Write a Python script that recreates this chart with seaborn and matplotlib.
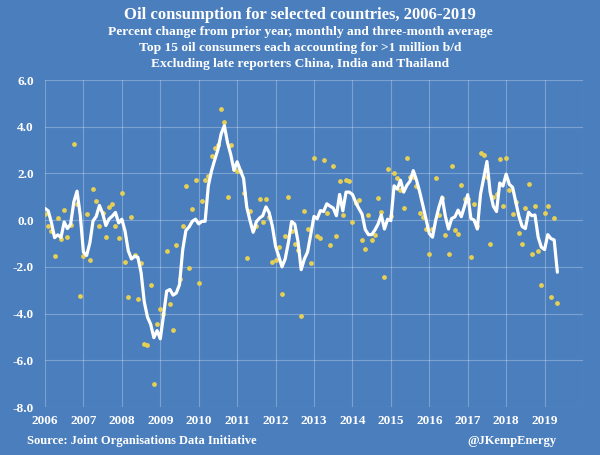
import numpy as np
import pandas as pd
import matplotlib
matplotlib.use("Agg")
import matplotlib.pyplot as plt
import seaborn as sns

# Monthly % change y/y, Jan 2006 - May 2019
monthly = [
    0.26, -0.26, -0.46, -1.53, 0.11, -0.79, 0.43, -0.73, -0.21, 3.27, 0.67, -3.26,   # 2006
    -1.53, 0.27, -1.69, 1.34, 0.83, -0.27, 0.31, -0.74, 0.57, 0.69, -0.27, -0.77,    # 2007
    1.17, -1.81, -3.29, 0.13, -1.50, -3.39, -1.83, -5.29, -5.33, -2.76, -7.00, -4.43, # 2008
    -3.81, -4.01, -1.31, -3.60, -4.71, -1.06, -2.50, -0.26, 1.45, -2.07, 0.47, 1.71,  # 2009
    -2.67, 0.81, 1.71, 1.89, 2.73, 3.11, 3.21, 4.74, 4.21, 1.00, 3.21, 2.20,          # 2010
    2.10, 2.10, 1.17, -1.60, 0.40, -0.36, -0.26, 0.89, -0.07, 0.89, 0.13, -1.81,      # 2011
    -1.69, -1.14, -3.17, -0.67, 0.97, -0.47, -1.00, -1.26, -4.11, 0.40, -0.36, -1.83, # 2012
    2.67, -0.67, -0.77, 2.56, 0.31, -1.06, 2.30, -0.67, 1.67, 0.21, 1.73, 1.67,       # 2013
    -0.09, 0.74, 0.86, -0.83, -1.23, 0.20, -0.84, -0.64, 0.96, 0.34, -2.43, 2.21,     # 2014
    0.17, 2.03, 1.79, 1.31, 0.50, 2.67, 1.84, 1.86, 1.47, 0.29, 0.13, -0.37,          # 2015
    -1.46, -0.36, 1.79, 0.22, 0.96, -0.64, -1.46, 2.32, -0.44, -0.60, 1.49, 0.89,     # 2016
    0.89, -1.57, 0.69, -0.26, 2.89, 2.80, 1.83, -1.03, 1.00, 1.14, 2.63, 0.60,        # 2017
    2.67, 1.31, 0.26, 0.77, -0.56, -1.01, 0.50, 1.54, -1.46, 0.59, -1.31, -2.76,      # 2018
    0.29, 0.60, -3.27, 0.11, -3.53,                                                   # 2019
]

# Three-month average, Jan 2006 - May 2019
three_month = [
    0.50, 0.40, -0.10, -0.75, -0.63, -0.74, -0.08, -0.36, -0.17, 0.78, 1.24, 0.23,
    -1.37, -1.51, -0.98, -0.03, 0.16, 0.63, 0.29, -0.23, 0.05, 0.17, 0.33, -0.12,
    0.04, -0.47, -1.31, -1.66, -1.55, -1.59, -2.24, -3.50, -4.15, -4.46, -5.03, -4.73,
    -5.08, -4.08, -3.04, -2.97, -3.21, -3.12, -2.76, -1.27, -0.44, -0.29, -0.05, 0.04,
    -0.16, -0.05, -0.05, 1.47, 2.11, 2.58, 3.02, 3.69, 4.05, 3.32, 2.81, 2.14,
    2.50, 2.13, 1.79, 0.56, -0.01, -0.52, -0.07, 0.09, 0.19, 0.57, 0.32, -0.26,
    -1.12, -1.55, -2.00, -1.66, -0.96, -0.06, -0.17, -0.91, -2.12, -1.66, -1.36, -0.60,
    0.16, 0.06, 0.41, 0.37, 0.70, 0.60, 0.52, 0.19, 1.10, 0.40, 1.20, 1.20,
    1.10, 0.77, 0.50, 0.26, -0.40, -0.62, -0.62, -0.43, -0.17, 0.22, -0.38, 0.04,
    -0.02, 1.47, 1.33, 1.71, 1.20, 1.49, 1.67, 2.12, 1.72, 1.21, 0.63, 0.02,
    -0.57, -0.73, -0.01, 0.55, 0.99, 0.18, -0.38, 0.07, 0.14, 0.43, 0.15, 0.59,
    1.09, 0.07, 0.00, -0.38, 1.11, 1.81, 2.51, 1.20, 0.60, 0.37, 1.59, 1.46,
    1.97, 1.53, 1.41, 0.78, 0.16, -0.27, -0.36, 0.34, 0.19, 0.22, -0.73, -1.16,
    -1.26, -0.62, -0.79, -0.85, -2.23,
]

year_ticks = list(range(2006, 2020))
y_ticks = [6.0, 4.0, 2.0, 0.0, -2.0, -4.0, -6.0, -8.0]

title = "Oil consumption for selected countries, 2006-2019"
subtitles = [
    "Percent change from prior year, monthly and three-month average",
    "Top 15 oil consumers each accounting for >1 million b/d",
    "Excluding late reporters China, India and Thailand",
]
source = "Source: Joint Organisations Data Initiative"
handle = "@JKempEnergy"

n = len(monthly)
t = 2006 + np.arange(n) / 12.0
df = pd.DataFrame({"t": t, "monthly": monthly, "avg3": three_month})

BG = "#4a7ebd"
sns.set_theme(style="white")
plt.rcParams["font.family"] = ["Liberation Serif", "DejaVu Serif"]

fig = plt.figure(figsize=(6.0, 4.55), dpi=100, facecolor=BG)
ax = fig.add_axes([45 / 600, 1 - 407 / 455, 538 / 600, 327 / 455])
ax.set_facecolor(BG)

sns.scatterplot(data=df, x="t", y="monthly", ax=ax, color="#e6cf55",
                s=12, linewidth=0, zorder=3, legend=False)
sns.lineplot(data=df, x="t", y="avg3", ax=ax, color="white",
             linewidth=2.3, zorder=4, legend=False)

ax.set_xlim(2006, 2020)
ax.set_ylim(-8, 6)
ax.set_xticks(list(range(2006, 2021)))
ax.set_xticklabels([str(y) for y in year_ticks] + [""])
ax.set_yticks(y_ticks)
ax.set_yticklabels([f"{v:.1f}" for v in y_ticks])
ax.grid(True, color="white", alpha=0.28, linewidth=0.8)
for s in ax.spines.values():
    s.set_visible(False)
ax.tick_params(axis="both", length=0, colors="white", labelsize=9.5)
ax.tick_params(axis="x", pad=6)
ax.tick_params(axis="y", pad=8)
for lab in ax.get_xticklabels() + ax.get_yticklabels():
    lab.set_fontweight("bold")
ax.set_xlabel("")
ax.set_ylabel("")

fig.text(0.5, 1 - 15 / 455, title, ha="center", va="center",
         color="white", fontsize=12, fontweight="bold")
for i, s in enumerate(subtitles):
    fig.text(0.5, 1 - (32 + 16 * i) / 455, s, ha="center", va="center",
             color="white", fontsize=9.7, fontweight="bold")
fig.text(27 / 600, 1 - 441 / 455, source, ha="left", va="center",
         color="white", fontsize=9, fontweight="bold")
fig.text(557 / 600, 1 - 441 / 455, handle, ha="right", va="center",
         color="white", fontsize=9, fontweight="bold")

fig.savefig("out.png", dpi=100, facecolor=BG)
